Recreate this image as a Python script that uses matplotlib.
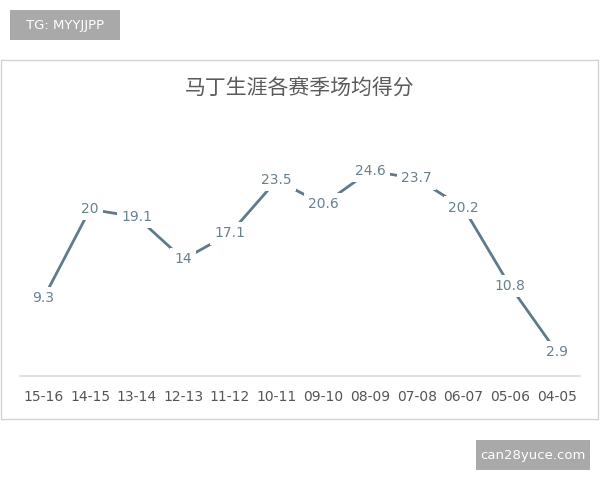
import matplotlib.pyplot as plt
from matplotlib.patches import Rectangle

plt.rcParams['font.family'] = ['Noto Sans CJK SC', 'DejaVu Sans']

# season labels and points per game
seasons = ['15-16', '14-15', '13-14', '12-13', '11-12', '10-11',
           '09-10', '08-09', '07-08', '06-07', '05-06', '04-05']
points = [9.3, 20, 19.1, 14, 17.1, 23.5, 20.6, 24.6, 23.7, 20.2, 10.8, 2.9]
point_labels = ['9.3', '20', '19.1', '14', '17.1', '23.5',
                '20.6', '24.6', '23.7', '20.2', '10.8', '2.9']

line_color = '#5f7a8a'
label_color = '#67818f'

fig = plt.figure(figsize=(6, 4.8), dpi=100)
W, H = 600, 480

# outer chart frame
frame = Rectangle((1 / W, 1 - 419 / H), 597 / W, 359 / H,
                  transform=fig.transFigure, facecolor='white',
                  edgecolor='#d4d4d4', linewidth=1, zorder=-5)
fig.patches.append(frame)

ax = fig.add_axes([20 / W, 1 - 376 / H, 560 / W, 250 / H])
ax.set_zorder(2)
x = list(range(len(seasons)))
ax.plot(x, points, color=line_color, linewidth=2, solid_capstyle='butt')
for xi, yi, lab in zip(x, points, point_labels):
    ax.text(xi, yi, lab, ha='center', va='center', fontsize=10,
            color=label_color, family=['DejaVu Sans'],
            bbox=dict(boxstyle='square,pad=0.3', facecolor='white',
                      edgecolor='none'))

ax.set_xlim(-0.5, len(seasons) - 0.5)
ax.set_ylim(0, 30)
ax.set_xticks(x)
ax.set_xticklabels(seasons, fontsize=10, color='#555555', family=['DejaVu Sans'])
ax.tick_params(axis='x', length=0, pad=10)
ax.set_yticks([])
for side in ['top', 'left', 'right']:
    ax.spines[side].set_visible(False)
ax.spines['bottom'].set_color('#d9d9d9')
ax.spines['bottom'].set_linewidth(1.2)
ax.patch.set_alpha(0)

fig.text(0.5, 1 - 88 / H, '马丁生涯各赛季场均得分', ha='center', va='center',
         fontsize=15, color='#5a5a5a')

# watermarks
fig.patches.append(Rectangle((10 / W, 1 - 40 / H), 110 / W, 30 / H,
                             transform=fig.transFigure, facecolor='#a9a9a9',
                             edgecolor='none'))
fig.text(65 / W, 1 - 25 / H, 'TG: MYYJJPP', ha='center', va='center',
         fontsize=9.5, color='white', family=['DejaVu Sans'])
fig.patches.append(Rectangle((476 / W, 1 - 470 / H), 114 / W, 30 / H,
                             transform=fig.transFigure, facecolor='#a9a9a9',
                             edgecolor='none'))
fig.text(533 / W, 1 - 455 / H, 'can28yuce.com', ha='center', va='center',
         fontsize=9.5, color='white', family=['DejaVu Sans'])

fig.savefig('out.png', dpi=100)
